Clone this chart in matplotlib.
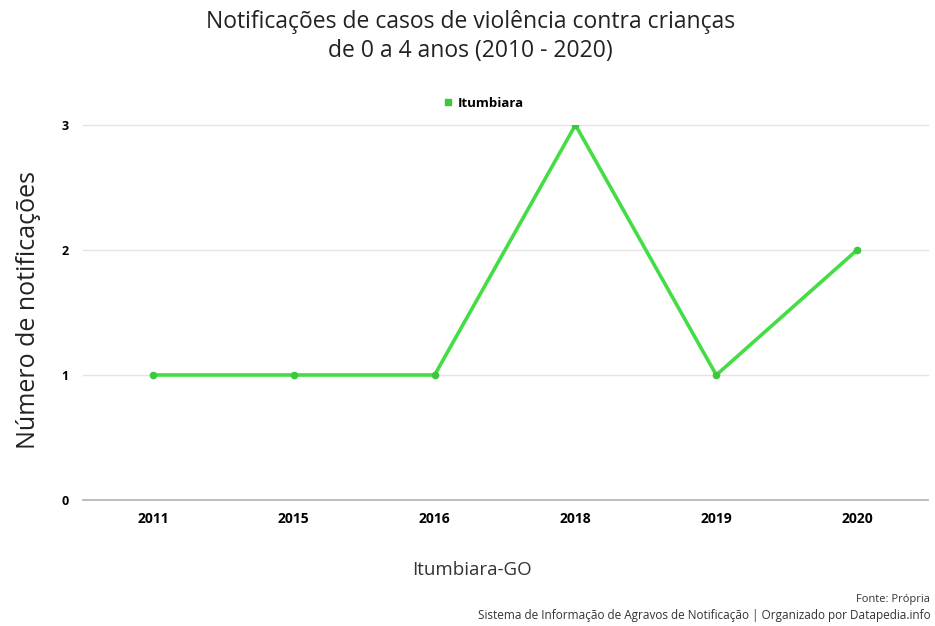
import matplotlib.pyplot as plt

anos = ['2011', '2015', '2016', '2018', '2019', '2020']
notificacoes = [1, 1, 1, 3, 1, 2]
serie = 'Itumbiara'
yticks = [0, 1, 2, 3]

verde = '#45dc45'

fig = plt.figure(figsize=(9.35, 6.26), dpi=100)
ax = fig.add_axes([0.0883, 0.2013, 0.9037, 0.599])

x = range(len(anos))
ax.plot(x, notificacoes, color=verde, lw=2.6, marker='o', ms=4.5,
        mfc='#3cc83c', mec='#3cc83c', label=serie, zorder=3)

ax.set_xlim(-0.5, len(anos) - 0.5)
ax.set_ylim(0, 3)
ax.set_xticks(list(x))
ax.set_xticklabels(anos, fontsize=10, fontweight='bold', family='Open Sans')
ax.set_yticks(yticks)
ax.set_yticklabels([str(v) for v in yticks], fontsize=9, fontweight='bold',
                   family='Open Sans')
ax.tick_params(length=0, pad=10)
ax.tick_params(axis='x', pad=9)

for v in yticks[1:]:
    ax.axhline(v, color='#e4e4e4', lw=1, zorder=1, clip_on=False)
ax.axhline(0, color='#b8b8b8', lw=1.3, zorder=2, clip_on=False)
for s in ax.spines.values():
    s.set_visible(False)

leg = ax.legend(loc='lower center', bbox_to_anchor=(0.475, 1.02), frameon=False,
                handlelength=0.6, handletextpad=0.5, borderaxespad=0.2,
                prop={'family': 'Open Sans', 'weight': 'bold', 'size': 9.5})
for h in leg.legend_handles:
    h.set_marker('s')
    h.set_linestyle('')
    h.set_markersize(5)
    h.set_color('#33cc33')

fig.text(0.503, 0.942, 'Notificações de casos de violência contra crianças\nde 0 a 4 anos (2010 - 2020)',
         ha='center', va='center', fontsize=16.5, family='Open Sans', color='#222222',
         linespacing=1.25)
fig.text(0.03, 0.505, 'Número de notificações', rotation=90, ha='center', va='center',
         fontsize=18, family='Open Sans', color='#222222')
fig.text(0.505, 0.089, 'Itumbiara-GO', ha='center', va='center', fontsize=13.5,
         family='Open Sans', color='#333333')
fig.text(0.995, 0.042, 'Fonte: Própria', ha='right', va='center', fontsize=8,
         family='Open Sans', color='#333333')
fig.text(0.995, 0.016, 'Sistema de Informação de Agravos de Notificação | Organizado por Datapedia.info',
         ha='right', va='center', fontsize=8.5, family='Open Sans', color='#333333')

fig.savefig('out.png', dpi=100, facecolor='white')
